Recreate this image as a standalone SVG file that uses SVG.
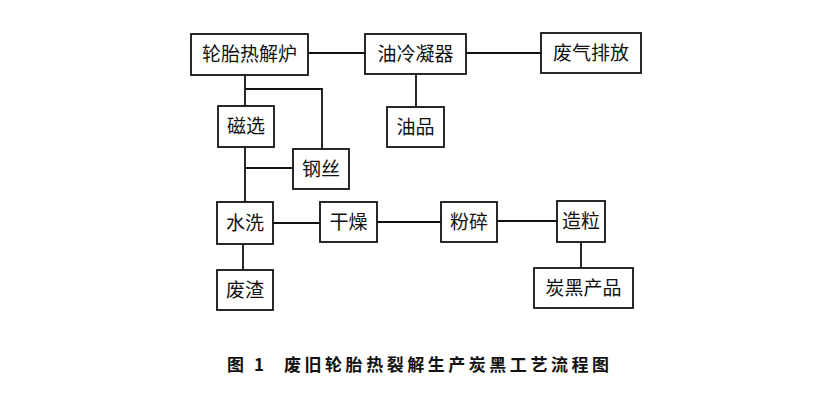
<svg xmlns="http://www.w3.org/2000/svg" width="832" height="396" viewBox="0 0 832 396">
<style>
.box{fill:#fff;stroke:#111;stroke-width:1.8}
.lbl{font-family:"Noto Sans CJK SC","Noto Sans",sans-serif;font-size:19px;fill:#111;text-anchor:middle}
.ln{fill:none;stroke:#111;stroke-width:1.8}
.cap{font-family:"Noto Sans CJK SC","Noto Sans",sans-serif;font-size:17px;font-weight:bold;fill:#111}
</style>
<rect width="832" height="396" fill="#fff"/>
<g id="connectors">
<path class="ln" d="M308 53H365"/>
<path class="ln" d="M466 53H541"/>
<path class="ln" d="M245 75V106"/>
<path class="ln" d="M245 89H322V149"/>
<path class="ln" d="M416 74V107"/>
<path class="ln" d="M245 147V202"/>
<path class="ln" d="M245 168H293"/>
<path class="ln" d="M243 244V270"/>
<path class="ln" d="M273 223H320"/>
<path class="ln" d="M377 222H441"/>
<path class="ln" d="M497 221H557"/>
<path class="ln" d="M581 242V268"/>
</g>
<g id="n_furnace"><rect class="box" x="191" y="34" width="117" height="41"/><text class="lbl" x="249.5" y="61">轮胎热解炉</text></g>
<g id="n_condenser"><rect class="box" x="365" y="34" width="101" height="40"/><text class="lbl" x="415.5" y="61">油冷凝器</text></g>
<g id="n_exhaust"><rect class="box" x="541" y="33" width="100" height="40"/><text class="lbl" x="591" y="60">废气排放</text></g>
<g id="n_magnetic"><rect class="box" x="218" y="106" width="56" height="41"/><text class="lbl" x="246" y="133">磁选</text></g>
<g id="n_oil"><rect class="box" x="387" y="107" width="57" height="40"/><text class="lbl" x="415.5" y="134">油品</text></g>
<g id="n_steel"><rect class="box" x="293" y="149" width="56" height="40"/><text class="lbl" x="321" y="176">钢丝</text></g>
<g id="n_wash"><rect class="box" x="217" y="202" width="56" height="42"/><text class="lbl" x="245" y="230">水洗</text></g>
<g id="n_dry"><rect class="box" x="320" y="202" width="57" height="40"/><text class="lbl" x="348.5" y="229">干燥</text></g>
<g id="n_crush"><rect class="box" x="441" y="202" width="56" height="40"/><text class="lbl" x="469" y="229">粉碎</text></g>
<g id="n_granulate"><rect class="box" x="557" y="201" width="48" height="41"/><text class="lbl" x="581" y="228">造粒</text></g>
<g id="n_residue"><rect class="box" x="217" y="270" width="56" height="40"/><text class="lbl" x="245" y="297">废渣</text></g>
<g id="n_carbon"><rect class="box" x="534" y="268" width="99" height="40"/><text class="lbl" x="583.5" y="295">炭黑产品</text></g>
<g id="caption">
<text class="cap" x="227" y="371">图</text>
<text class="cap" x="254" y="371">1</text>
<text class="cap" x="284" y="371" textLength="325" lengthAdjust="spacing">废旧轮胎热裂解生产炭黑工艺流程图</text>
</g>
</svg>
